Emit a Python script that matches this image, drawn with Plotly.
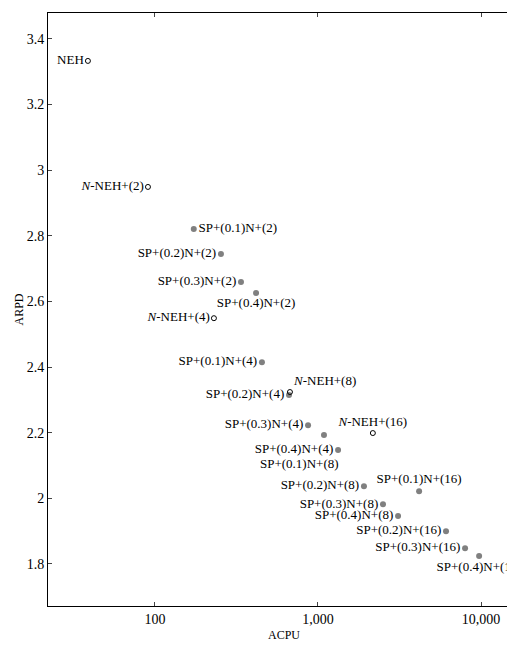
import plotly.graph_objects as go

# filled markers: SP+(p)N+(k) variants
sp_labels = ["SP+(0.1)N+(2)", "SP+(0.2)N+(2)", "SP+(0.3)N+(2)", "SP+(0.4)N+(2)",
             "SP+(0.1)N+(4)", "SP+(0.2)N+(4)", "SP+(0.3)N+(4)", "SP+(0.4)N+(4)",
             "SP+(0.1)N+(8)", "SP+(0.2)N+(8)", "SP+(0.3)N+(8)", "SP+(0.4)N+(8)",
             "SP+(0.1)N+(16)", "SP+(0.2)N+(16)", "SP+(0.3)N+(16)", "SP+(0.4)N+(16)"]
sp_acpu = [173, 254, 337, 417, 453, 664, 869, 1328, 1088, 1914, 2504, 3098,
           4170, 6100, 7980, 9730]
sp_arpd = [2.821, 2.745, 2.659, 2.626, 2.415, 2.315, 2.223, 2.147, 2.193, 2.037,
           1.982, 1.946, 2.022, 1.900, 1.848, 1.824]
sp_pos = ["middle right", "middle left", "middle left", "bottom center",
          "middle left", "middle left", "middle left", "middle left",
          None, "middle left", "middle left", "middle left",
          "top center", "middle left", "middle left", "bottom center"]

# open markers: NEH baselines
neh_labels = ["NEH", "<i>N</i>-NEH+(2)", "<i>N</i>-NEH+(4)", "<i>N</i>-NEH+(8)",
              "<i>N</i>-NEH+(16)"]
neh_acpu = [38.8, 90.6, 230, 673, 2170]
neh_arpd = [3.333, 2.949, 2.549, 2.324, 2.199]
neh_pos = ["middle left", "middle left", "middle left", "top right", "top center"]

font = dict(family="Liberation Serif", size=13, color="black")

fig = go.Figure()
fig.add_trace(go.Scatter(x=sp_acpu, y=sp_arpd, mode="markers+text",
                         text=[t if p else "" for t, p in zip(sp_labels, sp_pos)],
                         textposition=[p or "middle left" for p in sp_pos], textfont=font,
                         marker=dict(color="#808080", size=6, symbol="circle")))
fig.add_trace(go.Scatter(x=neh_acpu, y=neh_arpd, mode="markers+text", text=neh_labels,
                         textposition=neh_pos, textfont=font,
                         marker=dict(color="black", size=5, symbol="circle-open",
                                     line=dict(width=1))))
# label placed further below to avoid clashing with SP+(0.4)N+(4)
fig.add_annotation(x=sp_acpu[8], y=sp_arpd[8], xref="x", yref="y", text=sp_labels[8],
                   showarrow=False, font=font, xshift=-24, yshift=-28)
fig.update_annotations(selector=dict(text=sp_labels[8]))
fig.layout.annotations[0].x = __import__("math").log10(sp_acpu[8])

fig.update_layout(
    width=515, height=645, showlegend=False,
    plot_bgcolor="white", paper_bgcolor="white",
    margin=dict(l=40, r=3, t=5, b=47),
    font=font,
    xaxis=dict(type="log", range=[1.344, 4.239], tickvals=[100, 1000, 10000],
               ticktext=["100", "1,000", "10,000"], automargin=False,
               title=dict(text="ACPU", standoff=4, font=dict(size=12)),
               tickfont=dict(size=14),
               showgrid=False, zeroline=False, showline=True, linecolor="black",
               mirror="ticks", ticks="inside", ticklen=4),
    yaxis=dict(range=[1.672, 3.479], tickvals=[1.8, 2, 2.2, 2.4, 2.6, 2.8, 3, 3.2, 3.4],
               automargin=False, tickfont=dict(size=14),
               title=dict(text="ARPD", standoff=0, font=dict(size=12)),
               showgrid=False, zeroline=False, showline=True, linecolor="black",
               mirror="ticks", ticks="inside", ticklen=4),
)

fig.write_html("out.html")
